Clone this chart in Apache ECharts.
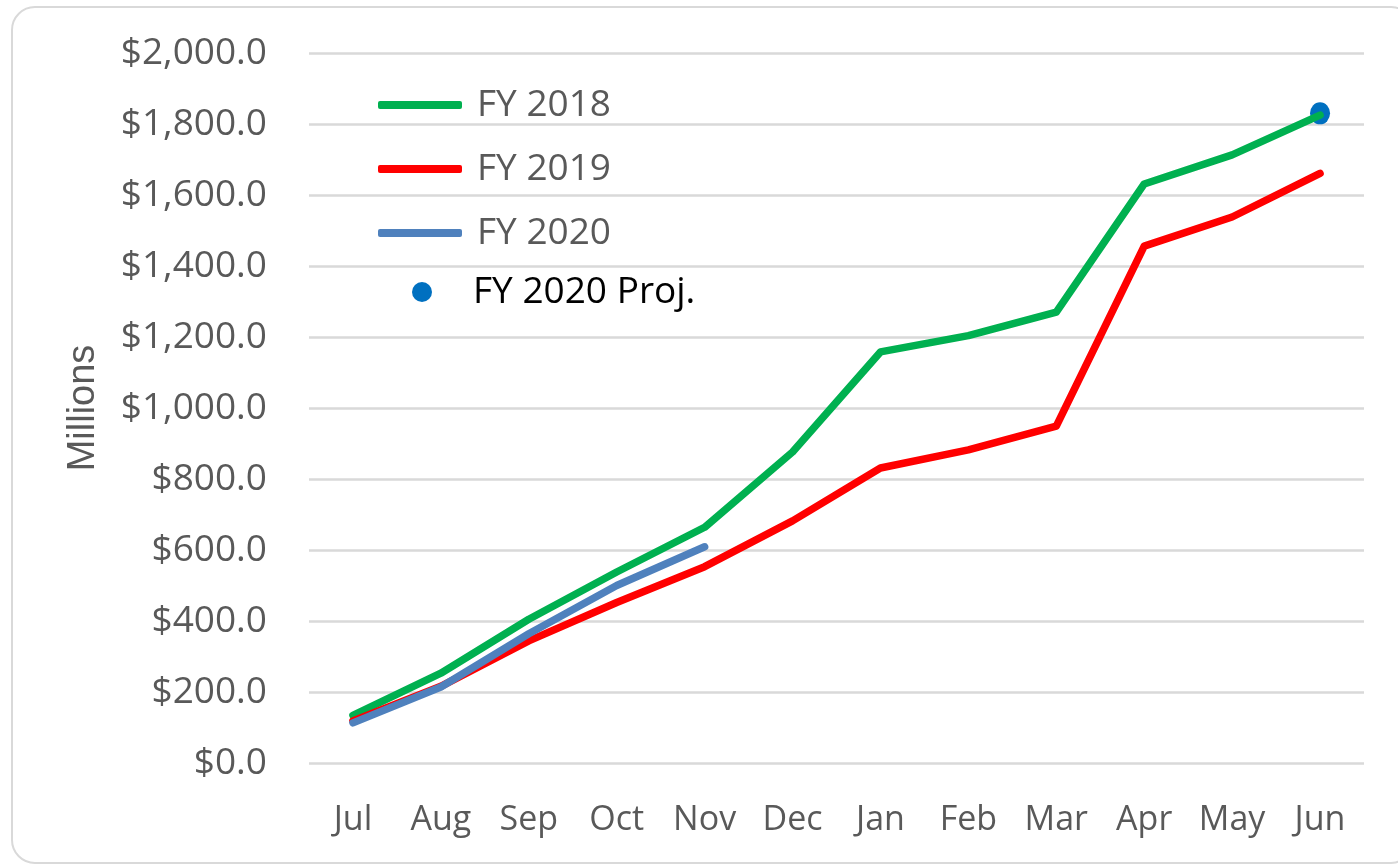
<!DOCTYPE html>
<html>
<head>
<meta charset="utf-8">
<script src="https://cdn.jsdelivr.net/npm/echarts@6/dist/echarts.min.js"></script>
<style>
  html, body { margin: 0; padding: 0; background: #fff; }
  #main { position: absolute; left: 0; top: 0; width: 1398px; height: 865px; }
  #frame { position: absolute; left: 11px; top: 6px; width: 1400px; height: 854px;
           border: 2px solid #d9d9d9; border-radius: 24px; pointer-events: none; }
</style>
</head>
<body>
<div id="main"></div>
<div id="frame"></div>
<script>
var months = ['Jul', 'Aug', 'Sep', 'Oct', 'Nov', 'Dec', 'Jan', 'Feb', 'Mar', 'Apr', 'May', 'Jun'];
var fy2018 = [134, 253, 405, 538, 664, 876, 1158, 1204, 1270, 1631, 1713, 1825];
var fy2019 = [118, 216, 344, 452, 553, 682, 831, 882, 949, 1456, 1538, 1661];
var fy2020 = [113, 214, 364, 500, 609];
var fy2020Proj = ['-', '-', '-', '-', '-', '-', '-', '-', '-', '-', '-', 1830];

var font = 'Open Sans';
var grey = '#595959';

var chart = echarts.init(document.getElementById('main'));
var option = {
    backgroundColor: '#ffffff',
    animation: false,
    grid: {
        left: 309,
        right: 34,
        top: 53,
        bottom: 102
    },
    legend: [{
        orient: 'vertical',
        left: 373,
        top: 80,
        itemWidth: 84,
        itemHeight: 8,
        itemGap: 24,
        selectedMode: false,
        textStyle: {
            fontFamily: font,
            fontSize: 37,
            color: grey,
            lineHeight: 40,
            padding: [0, 0, 0, 10]
        },
        data: [
            {name: 'FY 2018', icon: 'roundRect'},
            {name: 'FY 2019', icon: 'roundRect'},
            {name: 'FY 2020', icon: 'roundRect'}
        ]
    }, {
        orient: 'vertical',
        left: 407,
        top: 267,
        itemWidth: 20,
        itemHeight: 20,
        selectedMode: false,
        textStyle: {
            fontFamily: font,
            fontSize: 37,
            color: '#000000',
            lineHeight: 40,
            padding: [0, 0, 0, 36]
        },
        data: [{name: 'FY 2020 Proj.', icon: 'circle'}]
    }],
    xAxis: {
        type: 'category',
        data: months,
        boundaryGap: true,
        axisLine: {show: false},
        axisTick: {show: false},
        axisLabel: {
            interval: 0,
            fontFamily: font,
            fontSize: 34,
            color: grey,
            margin: 40
        }
    },
    yAxis: {
        type: 'value',
        min: 0,
        max: 2000,
        interval: 200,
        name: 'Millions',
        nameLocation: 'middle',
        nameRotate: 90,
        nameGap: 206,
        nameTextStyle: {
            fontFamily: 'Liberation Sans',
            fontSize: 38,
            color: grey
        },
        axisLine: {show: false},
        axisTick: {show: false},
        splitLine: {
            lineStyle: {color: '#d9d9d9', width: 2.5}
        },
        axisLabel: {
            fontFamily: font,
            fontSize: 37,
            color: grey,
            margin: 42,
            formatter: function (v) {
                return '$' + v.toLocaleString('en-US', {minimumFractionDigits: 1, maximumFractionDigits: 1});
            }
        }
    },
    series: [{
        name: 'FY 2018',
        type: 'line',
        data: fy2018,
        symbol: 'none',
        itemStyle: {color: '#00b050'},
        lineStyle: {color: '#00b050', width: 7.5, cap: 'round', join: 'round'}
    }, {
        name: 'FY 2019',
        type: 'line',
        data: fy2019,
        symbol: 'none',
        itemStyle: {color: '#ff0000'},
        lineStyle: {color: '#ff0000', width: 7.5, cap: 'round', join: 'round'}
    }, {
        name: 'FY 2020',
        type: 'line',
        data: fy2020,
        symbol: 'none',
        itemStyle: {color: '#4f81bd'},
        lineStyle: {color: '#4f81bd', width: 7.5, cap: 'round', join: 'round'}
    }, {
        name: 'FY 2020 Proj.',
        type: 'scatter',
        data: fy2020Proj,
        symbol: 'circle',
        symbolSize: [20, 22],
        itemStyle: {color: '#0070c0', opacity: 1}
    }]
};
chart.setOption(option);
</script>
</body>
</html>
